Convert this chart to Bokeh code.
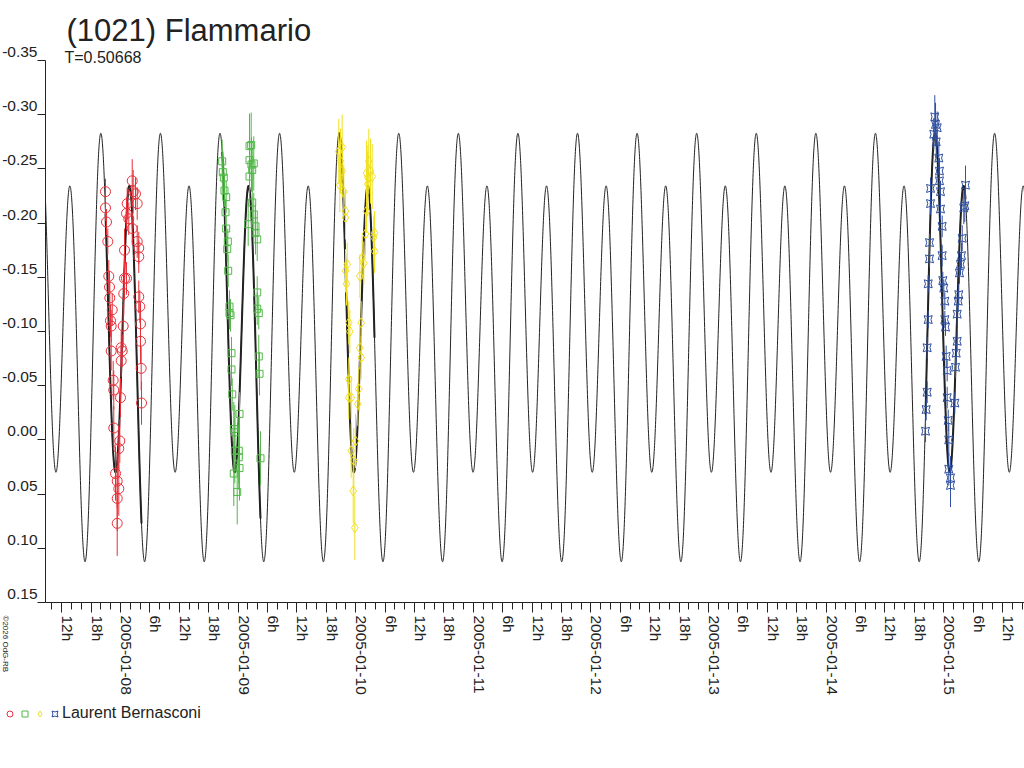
import numpy as np
from bokeh.plotting import figure
from bokeh.models import (Range1d, FixedTicker, Label, Legend, LegendItem, LinearAxis)
from bokeh.embed import file_html
from bokeh.resources import INLINE

# ---------------- chart texts ----------------
TITLE = "(1021) Flammario"
SUBTITLE = "T=0.50668"
OBSERVER = "Laurent Bernasconi"
COPYRIGHT = "\u00a92026 OdG-RB"

# ---------------- light-curve model ----------------
PERIOD_DAYS = 0.50668          # rotation period shown as T=
EPOCH_H = 56.67                # hours after 2005-01-08 00:00 of a main maximum
C0 = -0.0933                   # mean level
A1 = -0.0243                   # 1st harmonic, cosine term
B1 = -0.0413                   # 1st harmonic, sine term
A2 = -0.164                    # 2nd harmonic, cosine term

# ---------------- axis ticks ----------------
DAYS = ["2005-01-08", "2005-01-09", "2005-01-10", "2005-01-11",
        "2005-01-12", "2005-01-13", "2005-01-14", "2005-01-15"]
HOUR_LABELS = ["6h", "12h", "18h"]
Y_TICKS = [-0.35, -0.30, -0.25, -0.20, -0.15, -0.10, -0.05, 0.0, 0.05, 0.10, 0.15]

# ---------------- observations (hours after 2005-01-08 00:00, relative mag) ----------------
red_t = [-3.06, -3.06, -2.86, -2.59, -2.39, -2.24, -2.18, -1.69, -2.04, -1.90, -1.90,
         -1.49, -1.37, 0.00, -1.37, -0.14, -0.35, -1.02, -0.67, -0.35, -0.67, -0.67,
         0.14, 0.35, 0.14, 0.55, 0.67, 0.82, 1.22, 0.82, 1.22, 1.37, 2.39, 2.59, 3.06,
         3.41, 1.69, 2.39,
         3.41, 3.73, 3.73, 3.73, 3.94, 4.08, 4.08, 4.22, 4.29]
red_mag = [-0.229, -0.214, -0.201, -0.183, -0.151, -0.141, -0.131, -0.120, -0.110, -0.105,
           -0.082, -0.055, -0.046, -0.039, -0.011, 0.001, 0.008, 0.031, 0.038, 0.045, 0.054,
           0.077,
           -0.085, -0.082, -0.073, -0.105, -0.135, -0.149, -0.149, -0.175, -0.209, -0.218,
           -0.239, -0.229, -0.227, -0.218, -0.204, -0.195,
           -0.183, -0.177, -0.169, -0.132, -0.123, -0.107, -0.091, -0.066, -0.034]
red_err = [0.012, 0.012, 0.012, 0.012, 0.015, 0.015, 0.015, 0.015, 0.015, 0.015, 0.018,
           0.018, 0.018, 0.018, 0.02, 0.02, 0.02, 0.025, 0.025, 0.025, 0.03, 0.03,
           0.015, 0.015, 0.015, 0.02, 0.02, 0.02, 0.015, 0.02, 0.015, 0.015, 0.02, 0.02,
           0.015, 0.015, 0.015, 0.015,
           0.015, 0.015, 0.015, 0.015, 0.015, 0.02, 0.02, 0.02, 0.02]

green_t = [20.75, 20.88, 21.08, 21.22, 21.57, 21.43, 21.57, 21.90, 21.78, 21.98, 22.24,
           22.24, 22.45, 22.65, 22.65, 22.80, 24.29, 23.12, 23.33, 23.33, 24.14, 24.14,
           24.29, 23.12, 23.82,
           26.67, 26.33, 26.73, 27.20, 26.33, 26.88, 26.33, 26.88, 27.20, 26.06, 27.55,
           27.55, 27.90, 27.90, 27.90, 28.22, 28.22, 28.37, 28.57]
green_mag = [-0.257, -0.247, -0.242, -0.230, -0.224, -0.210, -0.195, -0.183, -0.176, -0.156,
             -0.123, -0.117, -0.115, -0.080, -0.065, -0.042, -0.024, -0.010, -0.007, 0.010,
             0.010, 0.016, 0.026, 0.031, 0.048,
             -0.272, -0.271, -0.254, -0.255, -0.258, -0.249, -0.243, -0.219, -0.208, -0.199,
             -0.197, -0.191, -0.185, -0.136, -0.121, -0.117, -0.077, -0.061, 0.017]
green_err = [0.02, 0.02, 0.015, 0.015, 0.015, 0.012, 0.012, 0.012, 0.012, 0.015, 0.015,
             0.015, 0.015, 0.015, 0.015, 0.015, 0.02, 0.025, 0.025, 0.03, 0.03, 0.03, 0.03,
             0.03, 0.03,
             0.03, 0.03, 0.025, 0.025, 0.025, 0.02, 0.02, 0.02, 0.02, 0.02, 0.02, 0.02,
             0.02, 0.015, 0.015, 0.015, 0.02, 0.02, 0.025]

yellow_t = [44.55, 45.24, 44.90, 45.24, 44.75, 45.57, 45.92, 45.92, 46.27, 45.92, 46.12,
            46.59, 46.80, 46.59, 46.59, 47.08, 47.96, 47.08, 47.61, 47.49, 47.82,
            49.12, 48.84, 49.12, 48.63, 48.43, 48.84, 49.65, 49.33, 50.00, 50.20, 51.84,
            51.84, 50.47, 50.20, 50.67, 51.02, 50.47, 51.37, 51.69]
yellow_mag = [-0.266, -0.270, -0.257, -0.248, -0.235, -0.229, -0.211, -0.205, -0.162,
              -0.156, -0.144, -0.108, -0.100, -0.056, -0.039, -0.039, 0.001, 0.010, 0.019,
              0.047, 0.081,
              -0.108, -0.085, -0.076, -0.047, -0.033, -0.151, -0.163, -0.168, -0.190,
              -0.211, -0.191, -0.174, -0.236, -0.246, -0.257, -0.248, -0.242, -0.243, -0.187]
yellow_err = [0.03, 0.03, 0.03, 0.025, 0.025, 0.025, 0.02, 0.02, 0.02, 0.02, 0.02, 0.02,
              0.02, 0.02, 0.02, 0.02, 0.025, 0.025, 0.03, 0.03, 0.03,
              0.02, 0.02, 0.02, 0.02, 0.02, 0.02, 0.02, 0.02, 0.02, 0.02, 0.02, 0.02, 0.03,
              0.03, 0.03, 0.03, 0.03, 0.03, 0.02]

blue_t = [164.29, 164.43, 164.63, 164.63, 164.84, 164.84, 165.10, 165.10, 165.31, 165.31,
          165.98, 166.33, 166.18, 166.67, 166.47,
          167.00, 167.14, 167.14, 167.35, 167.35, 167.69, 167.69, 167.82, 168.02, 168.23,
          168.23, 168.37, 168.51, 168.71, 168.71, 168.92, 169.04, 169.04, 169.39, 169.39,
          170.27, 170.41, 170.55, 170.75, 170.75, 170.96, 171.08, 171.22, 171.43, 171.63,
          171.78, 172.10, 172.31, 172.45]
blue_mag = [-0.008, -0.028, -0.044, -0.085, -0.111, -0.144, -0.167, -0.182, -0.218, -0.232,
            -0.282, -0.291, -0.298, -0.288, -0.275,
            -0.260, -0.248, -0.239, -0.229, -0.213, -0.197, -0.170, -0.147, -0.140, -0.128,
            -0.111, -0.104, -0.077, -0.064, -0.039, -0.018, 0.000, 0.027, 0.035, 0.042,
            -0.034, -0.067, -0.080, -0.091, -0.116, -0.128, -0.134, -0.154, -0.162, -0.170,
            -0.186, -0.214, -0.216, -0.235]
blue_err = [0.01, 0.01, 0.01, 0.01, 0.008, 0.008, 0.008, 0.008, 0.01, 0.01, 0.015, 0.02,
            0.02, 0.015, 0.015,
            0.015, 0.012, 0.012, 0.01, 0.01, 0.01, 0.01, 0.008, 0.008, 0.008, 0.008, 0.008,
            0.01, 0.01, 0.01, 0.01, 0.015, 0.015, 0.02, 0.02,
            0.01, 0.01, 0.01, 0.01, 0.01, 0.01, 0.01, 0.01, 0.01, 0.012, 0.012, 0.015,
            0.015, 0.018]

SESSIONS = [
    (red_t, red_mag, red_err, "circle", "#e8303a", 10),
    (green_t, green_mag, green_err, "square", "#52b848", 7),
    (yellow_t, yellow_mag, yellow_err, "diamond", "#f0e020", 10),
    (blue_t, blue_mag, blue_err, "square_pin", "#3050a0", 8),
]

# ---------------- layout (pixel anchors of the page) ----------------
W, H = 1024, 768
PX_DAY0 = 120.0            # page x of 2005-01-08 00:00
PX_PER_H = 117.6 / 24.0
PY_TOP_TICK = 60.0         # page y of the -0.35 tick
PX_PER_MAG = 1084.0
AXIS_PX = 45.0             # page x of the vertical axis
LABEL_DX_PX = 6.0          # date/hour labels sit right of their tick
LABEL_DY_PX = -8.5         # magnitude labels sit above their tick


def hx(px):
    return (px - PX_DAY0) / PX_PER_H


def vy(py):
    return -0.35 + (py - PY_TOP_TICK) / PX_PER_MAG


X0, X1 = hx(0), hx(W)
Y_TOP, Y_BOT = vy(0), vy(H)
AXIS_X = hx(AXIS_PX)
FONT = "Liberation Sans"
TXT = "#222222"
INK = "#222222"


def model(h):
    phi = (np.asarray(h) - EPOCH_H) / (PERIOD_DAYS * 24.0)
    return (C0 + A1 * np.cos(2 * np.pi * phi) + B1 * np.sin(2 * np.pi * phi)
            + A2 * np.cos(4 * np.pi * phi))


p = figure(width=W, height=H, output_backend="svg", toolbar_location=None,
           x_range=Range1d(X0, X1), y_range=Range1d(Y_BOT, Y_TOP),
           min_border=0, min_border_left=0, min_border_right=0,
           min_border_top=0, min_border_bottom=0)
p.outline_line_color = None
p.xgrid.visible = False
p.ygrid.visible = False
p.background_fill_color = "white"
p.border_fill_color = "white"

# model curve
hh = np.linspace(AXIS_X, X1, 6000)
p.line(hh, model(hh), line_color=INK, line_width=1)

# model over each observing run, drawn heavier
for t, m, e, mk, col, sz in SESSIONS:
    hs = np.linspace(min(t), max(t), 300)
    p.line(hs, model(hs), line_color=INK, line_width=2)

legend_items = []
for i, (t, m, e, mk, col, sz) in enumerate(SESSIONS):
    t = np.array(t); m = np.array(m); e = np.array(e)
    p.segment(t, m - e, t, m + e, line_color=col, line_width=1)
    r = p.scatter(t, m, marker=mk, size=sz, fill_color=None, line_color=col,
                  line_width=1)
    label = OBSERVER if i == len(SESSIONS) - 1 else ""
    legend_items.append(LegendItem(label=label, renderers=[r]))

# ---------------- x axis: ticks every 6 h, minor every 2 h ----------------
major = list(range(-12, 181, 6))
minor = list(range(-14, 185, 2))
xlabels = []
for tk in major:
    hod = tk % 24
    xlabels.append(DAYS[tk // 24] if hod == 0 else HOUR_LABELS[hod // 6 - 1])

xa = p.xaxis[0]
xa.fixed_location = 0.15
xa.bounds = (AXIS_X, X1)
xa.ticker = FixedTicker(ticks=major, minor_ticks=minor)
xa.major_label_overrides = {tk: "" for tk in major}
xa.major_tick_in = 0
xa.major_tick_out = 10
xa.minor_tick_in = 0
xa.minor_tick_out = 7
xa.axis_line_color = INK
xa.major_tick_line_color = INK
xa.minor_tick_line_color = INK

dx = LABEL_DX_PX / PX_PER_H
xlab_ticks = [tk + dx for tk in major]
xl = LinearAxis(fixed_location=0.15,
                ticker=FixedTicker(ticks=xlab_ticks, minor_ticks=[]),
                major_label_overrides=dict(zip(xlab_ticks, xlabels)),
                major_label_orientation=-np.pi / 2,
                axis_line_color=None, major_tick_line_color=None,
                minor_tick_line_color=None, major_tick_in=0, major_tick_out=10,
                major_label_standoff=3, major_label_text_font=FONT,
                major_label_text_font_size="15.5px", major_label_text_color=TXT)
p.add_layout(xl, "below")

# ---------------- y axis (reversed magnitudes) ----------------
ya = p.yaxis[0]
ya.fixed_location = AXIS_X
ya.bounds = (-0.35, 0.15)
ya.ticker = FixedTicker(ticks=Y_TICKS, minor_ticks=[])
ya.major_label_overrides = {tk: "" for tk in Y_TICKS}
ya.major_tick_in = 0
ya.major_tick_out = 8
ya.minor_tick_line_color = None
ya.axis_line_color = INK
ya.major_tick_line_color = INK

dy = LABEL_DY_PX / PX_PER_MAG
ylab_ticks = [tk + dy for tk in Y_TICKS]
yl = LinearAxis(fixed_location=AXIS_X,
                ticker=FixedTicker(ticks=ylab_ticks, minor_ticks=[]),
                major_label_overrides={t: f"{v:.2f}" for t, v in zip(ylab_ticks, Y_TICKS)},
                axis_line_color=None, major_tick_line_color=None,
                minor_tick_line_color=None, major_tick_in=0, major_tick_out=8,
                major_label_standoff=0, major_label_text_font=FONT,
                major_label_text_font_size="15.5px", major_label_text_color=TXT)
p.add_layout(yl, "left")

# ---------------- title, period, copyright ----------------
p.add_layout(Label(x=66, y=H - 30, x_units="screen", y_units="screen", text=TITLE,
                   text_font=FONT, text_font_size="31px", text_color=INK,
                   text_baseline="middle"))
p.add_layout(Label(x=64, y=H - 57, x_units="screen", y_units="screen", text=SUBTITLE,
                   text_font=FONT, text_font_size="16px", text_color=TXT,
                   text_baseline="middle"))
p.add_layout(Label(x=0, y=H - 615, x_units="screen", y_units="screen",
                   text=COPYRIGHT, angle=-np.pi / 2, text_font=FONT,
                   text_font_size="8px", text_color=TXT, text_align="left",
                   text_baseline="bottom"))

# ---------------- legend ----------------
legend = Legend(items=legend_items, orientation="horizontal",
                location=(2, H - 722), spacing=0, padding=0, margin=0,
                label_standoff=0, label_width=0, label_height=0,
                glyph_width=15, glyph_height=15,
                label_text_font=FONT, label_text_font_size="16px",
                label_text_color=TXT, border_line_color=None,
                background_fill_alpha=0)
p.add_layout(legend, "center")

open("out.html", "w").write(file_html(p, INLINE))
